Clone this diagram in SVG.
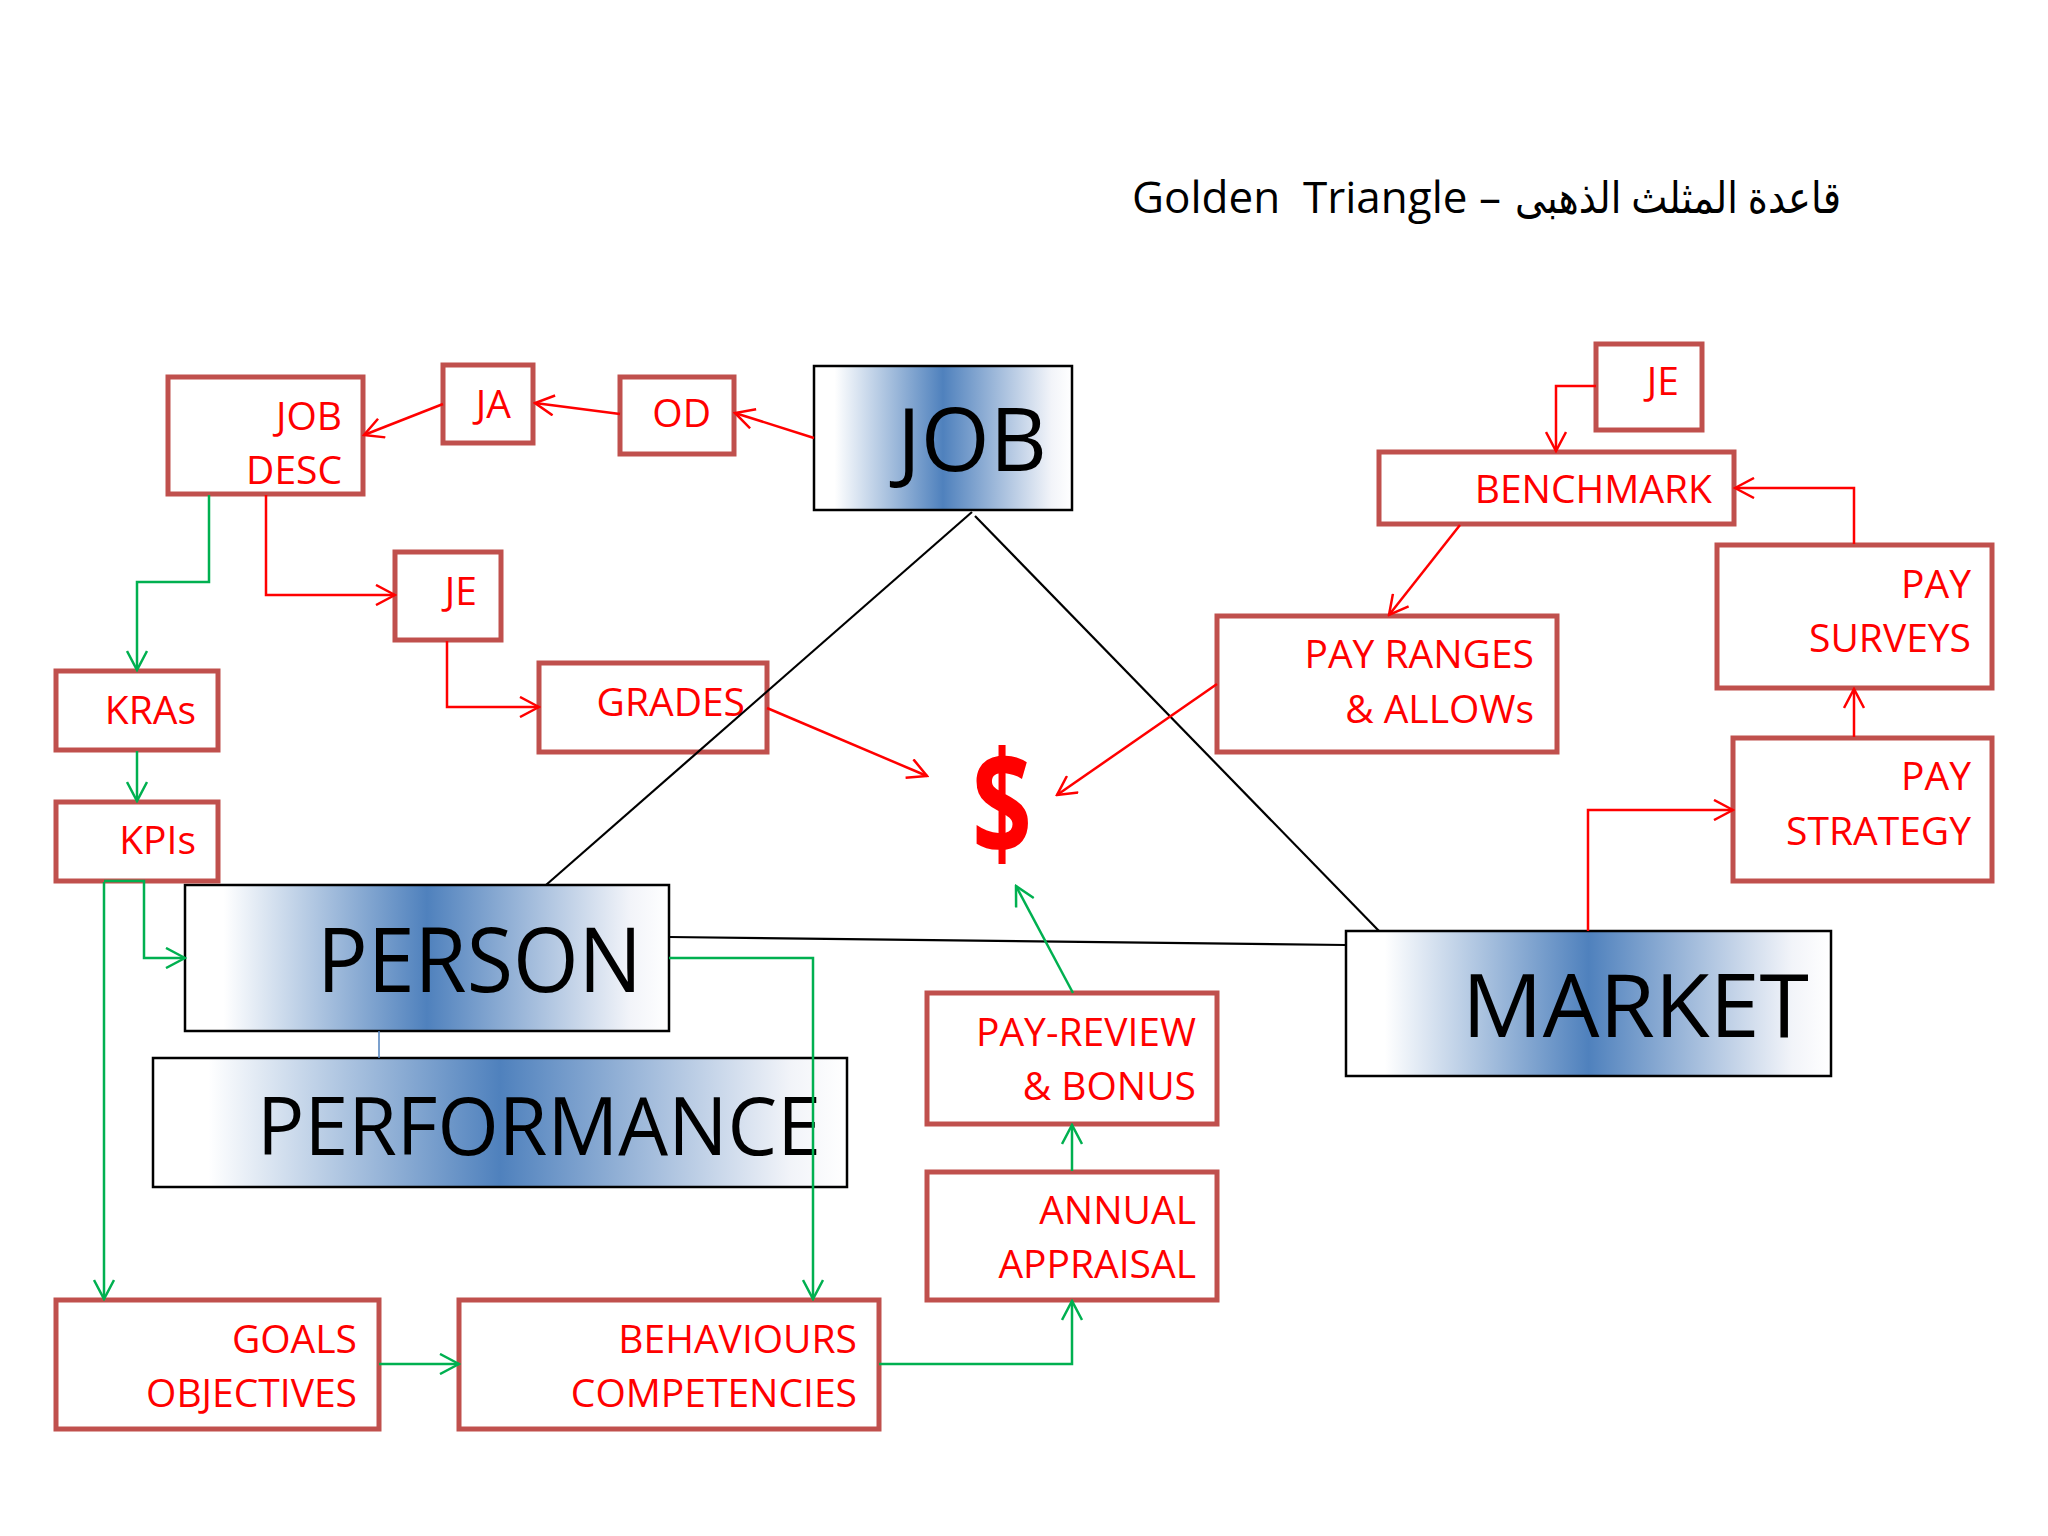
<svg xmlns="http://www.w3.org/2000/svg" width="2048" height="1536" viewBox="0 0 2048 1536">
<defs>
<linearGradient id="blueGrad" x1="0" y1="0" x2="1" y2="0">
<stop offset="0" stop-color="#FFFFFF"/>
<stop offset="0.08" stop-color="#FFFFFF"/>
<stop offset="0.5" stop-color="#4F81BD"/>
<stop offset="0.92" stop-color="#F2F4F9"/>
<stop offset="1" stop-color="#FFFFFF"/>
</linearGradient>
<marker id="arrRed" viewBox="0 0 22 22" refX="20" refY="11" markerWidth="22" markerHeight="22" markerUnits="userSpaceOnUse" orient="auto">
<path d="M1,1 L20,11 L1,21" fill="none" stroke="#FF0000" stroke-width="2.5"/>
</marker>
<marker id="arrGreen" viewBox="0 0 22 22" refX="20" refY="11" markerWidth="22" markerHeight="22" markerUnits="userSpaceOnUse" orient="auto">
<path d="M1,1 L20,11 L1,21" fill="none" stroke="#00B050" stroke-width="2.5"/>
</marker>
</defs>
<style>
text { font-family: "Open Sans", "Noto Sans", "DejaVu Sans", sans-serif; }
.rbox { fill: #FFFFFF; stroke: #C0504D; stroke-width: 5; }
.bbox { fill: url(#blueGrad); stroke: #000000; stroke-width: 2.5; }
.rt { fill: #FF0000; font-size: 39px; text-anchor: end; }
.bt { fill: #000000; text-anchor: end; }
.red { fill: none; stroke: #FF0000; stroke-width: 2.5; marker-end: url(#arrRed); }
.green { fill: none; stroke: #00B050; stroke-width: 2.5; marker-end: url(#arrGreen); }
.blk { fill: none; stroke: #000000; stroke-width: 2.2; }
.title { fill: #000000; font-size: 44px; }
</style>
<rect width="2048" height="1536" fill="#FFFFFF"/>

<g id="title">
<text class="title" x="1132" y="213" xml:space="preserve">Golden  Triangle –</text>
<text class="title" x="1841" y="213" text-anchor="end" font-size="42" textLength="326" lengthAdjust="spacingAndGlyphs">قاعدة المثلث الذهبى</text>
</g>

<g id="node-job">
<rect class="bbox" x="814" y="366" width="258" height="144"/>
<text class="bt" x="1047" y="471" font-size="88" textLength="150" lengthAdjust="spacingAndGlyphs">JOB</text>
</g>
<g id="node-person">
<rect class="bbox" x="185" y="885" width="484" height="146"/>
<text class="bt" x="642" y="992" font-size="90" textLength="325" lengthAdjust="spacingAndGlyphs">PERSON</text>
</g>
<g id="node-performance">
<rect class="bbox" x="153" y="1058" width="694" height="129"/>
<text class="bt" x="821" y="1155" font-size="81" textLength="564" lengthAdjust="spacingAndGlyphs">PERFORMANCE</text>
</g>
<g id="node-market">
<rect class="bbox" x="1346" y="931" width="485" height="145"/>
<text class="bt" x="1809" y="1037" font-size="88" textLength="347" lengthAdjust="spacingAndGlyphs">MARKET</text>
</g>

<g id="node-jobdesc">
<rect class="rbox" x="168" y="377" width="195" height="117"/>
<text class="rt" x="342" y="430">JOB</text>
<text class="rt" x="342" y="484">DESC</text>
</g>
<g id="node-ja">
<rect class="rbox" x="443" y="365" width="90" height="78"/>
<text class="rt" x="511" y="418">JA</text>
</g>
<g id="node-od">
<rect class="rbox" x="620" y="377" width="114" height="77"/>
<text class="rt" x="711" y="427">OD</text>
</g>
<g id="node-je-left">
<rect class="rbox" x="395" y="552" width="106" height="88"/>
<text class="rt" x="477" y="605">JE</text>
</g>
<g id="node-grades">
<rect class="rbox" x="539" y="663" width="228" height="89"/>
<text class="rt" x="745" y="716">GRADES</text>
</g>
<g id="node-kras">
<rect class="rbox" x="56" y="671" width="162" height="79"/>
<text class="rt" x="196" y="724">KRAs</text>
</g>
<g id="node-kpis">
<rect class="rbox" x="56" y="802" width="162" height="79"/>
<text class="rt" x="196" y="854">KPIs</text>
</g>
<g id="node-goals">
<rect class="rbox" x="56" y="1300" width="323" height="129"/>
<text class="rt" x="357" y="1353">GOALS</text>
<text class="rt" x="357" y="1407">OBJECTIVES</text>
</g>
<g id="node-behaviours">
<rect class="rbox" x="459" y="1300" width="420" height="129"/>
<text class="rt" x="857" y="1353">BEHAVIOURS</text>
<text class="rt" x="857" y="1407">COMPETENCIES</text>
</g>
<g id="node-annual">
<rect class="rbox" x="927" y="1172" width="290" height="128"/>
<text class="rt" x="1196" y="1224">ANNUAL</text>
<text class="rt" x="1196" y="1278">APPRAISAL</text>
</g>
<g id="node-payreview">
<rect class="rbox" x="927" y="993" width="290" height="131"/>
<text class="rt" x="1196" y="1046">PAY-REVIEW</text>
<text class="rt" x="1196" y="1100">&amp; BONUS</text>
</g>
<g id="node-je-right">
<rect class="rbox" x="1596" y="344" width="106" height="86"/>
<text class="rt" x="1679" y="395">JE</text>
</g>
<g id="node-benchmark">
<rect class="rbox" x="1379" y="452" width="355" height="72"/>
<text class="rt" x="1712" y="503">BENCHMARK</text>
</g>
<g id="node-payranges">
<rect class="rbox" x="1217" y="616" width="340" height="136"/>
<text class="rt" x="1534" y="668">PAY RANGES</text>
<text class="rt" x="1534" y="723">&amp; ALLOWs</text>
</g>
<g id="node-paysurveys">
<rect class="rbox" x="1717" y="545" width="275" height="143"/>
<text class="rt" x="1971" y="598">PAY</text>
<text class="rt" x="1971" y="652">SURVEYS</text>
</g>
<g id="node-paystrategy">
<rect class="rbox" x="1733" y="738" width="259" height="143"/>
<text class="rt" x="1971" y="790">PAY</text>
<text class="rt" x="1971" y="845">STRATEGY</text>
</g>
<g id="node-dollar">
<text x="972" y="856" font-size="146" font-weight="bold" fill="#FF0000" textLength="60" lengthAdjust="spacingAndGlyphs">$</text>
</g>

<g id="triangle">
<path class="blk" d="M972,512 L546,885"/>
<path class="blk" d="M975,516 L1379,931"/>
<path class="blk" d="M669,937 L1346,945"/>
</g>

<g id="connectors">
<path class="red" d="M814,438 L735,413"/>
<path class="red" d="M620,414 L535,403"/>
<path class="red" d="M443,404 L364,435"/>
<path class="red" d="M266,495 V595 H395"/>
<path class="red" d="M447,641 V707 H539"/>
<path class="red" d="M767,708 L927,776"/>
<path class="red" d="M1217,684 L1057,795"/>
<path class="red" d="M1596,386 H1556 V451"/>
<path class="red" d="M1854,544 V488 H1735"/>
<path class="red" d="M1854,737 V689"/>
<path class="red" d="M1588,931 V810 H1733"/>
<path class="red" d="M1460,525 L1389,615"/>
<path class="green" d="M209,495 V582 H137 V670"/>
<path class="green" d="M137,751 V801"/>
<path class="green" d="M104,882 V1299"/>
<path class="green" d="M104,881 H144 V958 H185"/>
<path class="green" d="M669,958 H813 V1299"/>
<path class="green" d="M379,1364 H459"/>
<path class="green" d="M879,1364 H1072 V1301"/>
<path class="green" d="M1072,1171 V1125"/>
<path class="green" d="M1073,993 L1016,886"/>
<path d="M379,1031 V1058" fill="none" stroke="#4F81BD" stroke-width="1.5"/>
</g>
</svg>
